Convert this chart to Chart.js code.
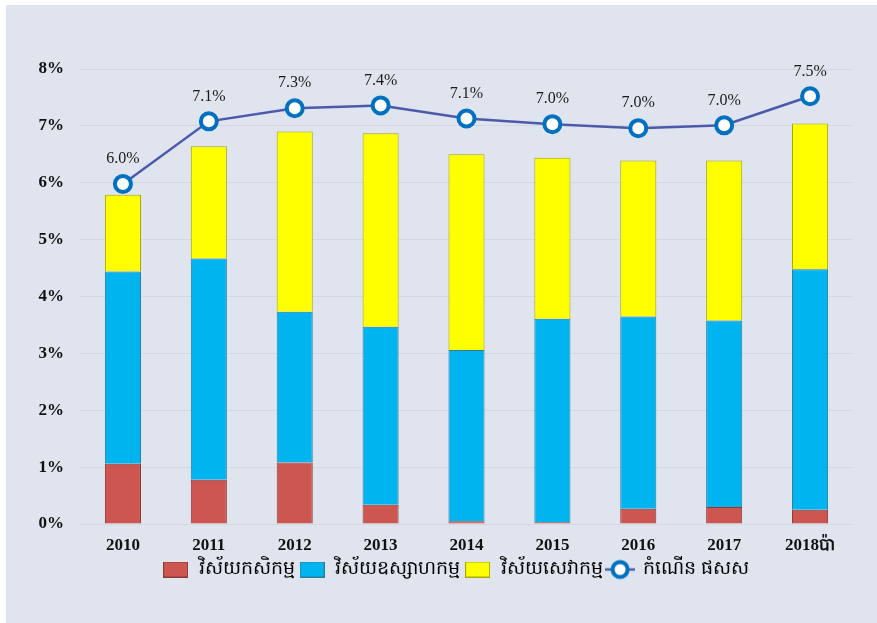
<!DOCTYPE html>
<html>
<head>
<meta charset="utf-8">
<script src="https://cdn.jsdelivr.net/npm/chart.js@4/dist/chart.umd.min.js"></script>
<style>
  html, body { margin: 0; padding: 0; background: #ffffff; }
  #wrap { position: absolute; left: 6px; top: 5px; width: 871px; height: 618px; background: #dfe4ee; }
  canvas { display: block; }
</style>
</head>
<body>
<div id="wrap"><canvas id="c" width="871" height="618"></canvas></div>
<script>
const categories = ['2010', '2011', '2012', '2013', '2014', '2015', '2016', '2017', '2018ប៉ា'];
const agriculture = [1.06, 0.78, 1.08, 0.34, 0.05, 0.03, 0.27, 0.30, 0.25];
const industry    = [3.38, 3.89, 2.65, 3.13, 3.01, 3.58, 3.38, 3.28, 4.23];
const services    = [1.35, 1.97, 3.17, 3.40, 3.44, 2.83, 2.74, 2.81, 2.56];
const gdpGrowth   = [5.98, 7.08, 7.31, 7.36, 7.13, 7.03, 6.96, 7.01, 7.52];
const growthLabels = ['6.0%', '7.1%', '7.3%', '7.4%', '7.1%', '7.0%', '7.0%', '7.0%', '7.5%'];
const yTicks = [0, 1, 2, 3, 4, 5, 6, 7, 8];
const seriesNames = ['វិស័យកសិកម្ម', 'វិស័យឧស្សាហកម្ម', 'វិស័យសេវាកម្ម', 'កំណើន ផសស'];

function boxIcon(fill, stroke) {
  const c = document.createElement('canvas');
  c.width = 25; c.height = 16;
  const g = c.getContext('2d');
  g.fillStyle = fill; g.fillRect(1, 1, 23, 14);
  g.strokeStyle = stroke; g.lineWidth = 1; g.strokeRect(0.5, 0.5, 24, 15);
  return c;
}
function lineIcon() {
  const c = document.createElement('canvas');
  c.width = 30; c.height = 22;
  const g = c.getContext('2d');
  g.strokeStyle = '#4b5bab'; g.lineWidth = 2.5;
  g.beginPath(); g.moveTo(0, 11); g.lineTo(30, 11); g.stroke();
  g.beginPath(); g.arc(15, 11, 7.5, 0, Math.PI * 2);
  g.fillStyle = '#ffffff'; g.fill();
  g.strokeStyle = '#0070c0'; g.lineWidth = 4; g.stroke();
  return c;
}
const icons = [boxIcon('#cd5651', '#8c3a37'), boxIcon('#00b4f0', '#2a7ea0'), boxIcon('#ffff00', '#a8a800'), lineIcon()];

const labelPlugin = {
  id: 'pointLabels',
  afterLayout(chart) {
    if (chart.legend) { chart.legend.left += 26; chart.legend.right += 26; }
  },
  afterDatasetsDraw(chart) {
    const meta = chart.getDatasetMeta(3);
    const ctx = chart.ctx;
    ctx.save();
    ctx.font = '16px "Liberation Serif", "Times New Roman", serif';
    ctx.fillStyle = '#1a1a1a';
    ctx.textAlign = 'center';
    ctx.textBaseline = 'middle';
    meta.data.forEach((pt, i) => {
      ctx.fillText(growthLabels[i], pt.x, pt.y - 25);
    });
    ctx.restore();
  }
};

const barCommon = { borderWidth: 1, stack: 'bars', order: 1, barPercentage: 0.42, categoryPercentage: 1.0 };

new Chart(document.getElementById('c'), {
  type: 'bar',
  data: {
    labels: categories,
    datasets: [
      Object.assign({ label: seriesNames[0], data: agriculture, backgroundColor: '#cd5651', borderColor: '#8c3a37' }, barCommon),
      Object.assign({ label: seriesNames[1], data: industry, backgroundColor: '#00b4f0', borderColor: '#2a7ea0' }, barCommon),
      Object.assign({ label: seriesNames[2], data: services, backgroundColor: '#ffff00', borderColor: '#a8a800' }, barCommon),
      {
        type: 'line', label: seriesNames[3], data: gdpGrowth, stack: 'line', order: 0,
        borderColor: '#4b5bab', borderWidth: 2.5, tension: 0,
        pointRadius: 8, pointHoverRadius: 8, pointBorderWidth: 4,
        pointBackgroundColor: '#ffffff', pointBorderColor: '#0070c0'
      }
    ]
  },
  options: {
    responsive: false,
    animation: false,
    devicePixelRatio: 1,
    layout: { padding: { top: 64, right: 24, bottom: 34, left: 0 } },
    plugins: {
      tooltip: { enabled: false },
      legend: {
        position: 'bottom',
        labels: {
          usePointStyle: true,
          pointStyleWidth: 27,
          padding: 4,
          color: '#111',
          font: { family: '"Liberation Serif", "Noto Sans", serif', size: 19 },
          generateLabels: (chart) => chart.data.datasets.map((ds, i) => ({
            text: ds.label, pointStyle: icons[i], datasetIndex: i,
            fillStyle: 'transparent', strokeStyle: 'transparent', lineWidth: 0, hidden: false
          }))
        }
      }
    },
    scales: {
      x: {
        stacked: true,
        grid: { display: false, drawTicks: false },
        border: { display: false },
        ticks: { color: '#111', padding: 11, font: { family: '"Liberation Serif", serif', size: 17, weight: 'bold' } },
        afterFit(s) { s.height = 32; }
      },
      y: {
        stacked: true,
        min: 0, max: 8,
        afterBuildTicks(s) { s.ticks = yTicks.map(v => ({ value: v })); },
        grid: { color: '#d2d7e1', lineWidth: 1, drawTicks: false },
        border: { display: false },
        ticks: {
          color: '#111', padding: 16,
          font: { family: '"Liberation Serif", serif', size: 17, weight: 'bold' },
          callback: (v) => v + '%'
        },
        afterFit(s) { s.width = 74; }
      }
    }
  },
  plugins: [labelPlugin]
});
</script>
</body>
</html>
